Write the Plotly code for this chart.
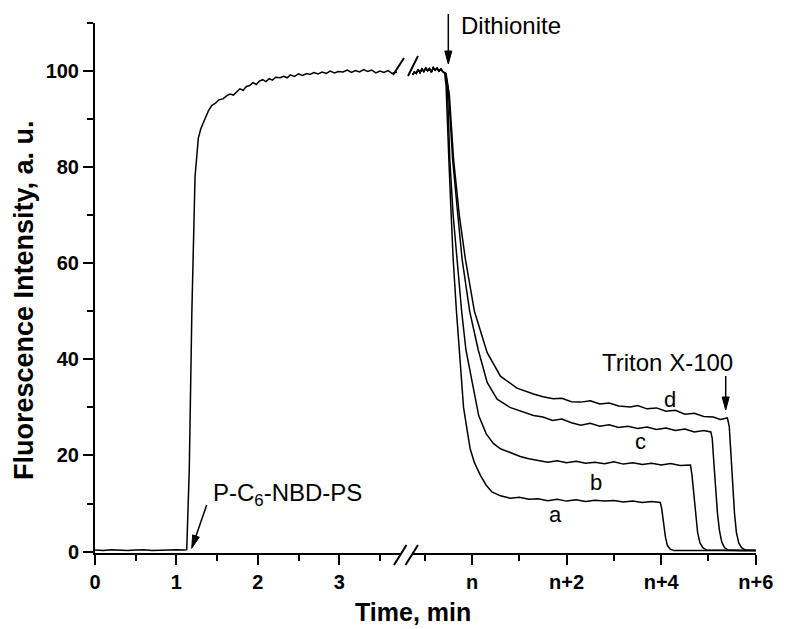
import math
import plotly.graph_objects as go

# ---------------- data ----------------
# left segment: time in min, fluorescence (a.u.)
left_time = [0.0, 0.1, 0.2, 0.3, 0.4, 0.5, 0.6, 0.7, 0.8, 0.9, 1.0, 1.1, 1.127,
             1.158, 1.19, 1.229, 1.25, 1.269, 1.30, 1.351, 1.39, 1.433, 1.48, 1.52,
             1.572, 1.62, 1.66, 1.70, 1.741, 1.78, 1.82, 1.86, 1.90, 1.941, 1.98,
             2.02, 2.06, 2.10, 2.14, 2.18, 2.22, 2.273, 2.32, 2.36, 2.40, 2.45, 2.50,
             2.55, 2.60, 2.641, 2.69, 2.74, 2.79, 2.84, 2.89, 2.94, 2.99, 3.047, 3.10,
             3.15, 3.20, 3.25, 3.30, 3.35, 3.40, 3.45, 3.50, 3.55, 3.60, 3.65, 3.71]
left_signal = [0.3, 0.2, 0.4, 0.3, 0.2, 0.3, 0.4, 0.2, 0.3, 0.3, 0.4, 0.3, 0.4,
               17.0, 50.0, 78.0, 83.0, 86.0, 88.0, 90.0, 91.6, 92.8, 93.3, 94.0,
               94.2, 94.9, 95.2, 95.0, 95.6, 96.3, 96.0, 96.8, 97.0, 97.6, 97.2,
               97.9, 98.2, 97.8, 98.4, 98.1, 98.7, 98.6, 98.9, 98.6, 99.2, 98.9, 99.4,
               99.1, 99.5, 99.3, 99.7, 99.4, 99.8, 99.5, 100.0, 99.6, 99.9, 99.8, 100.2,
               99.7, 100.1, 99.8, 100.3, 99.9, 100.2, 99.6, 100.0, 99.7, 100.1, 99.5, 99.8]

# right segment: time relative to n (min); common part before dithionite
pre_time = [-1.26, -1.22, -1.18, -1.14, -1.10, -1.06, -1.02, -0.98, -0.94, -0.90,
            -0.86, -0.82, -0.78, -0.74, -0.70, -0.66, -0.62]
pre_signal = [99.2, 99.8, 99.5, 100.3, 99.7, 100.4, 99.9, 100.6, 100.1, 100.5,
              99.8, 100.7, 100.2, 100.6, 100.0, 100.4, 99.9]

a_time = [-0.58, -0.55, -0.52, -0.49, -0.45, -0.40, -0.33, -0.27, -0.18, -0.10, -0.04,
          0.05, 0.18, 0.30, 0.42, 0.60, 0.81, 1.0, 1.2, 1.4, 1.6, 1.8, 2.0, 2.2, 2.4,
          2.6, 2.8, 3.0, 3.2, 3.4, 3.6, 3.8, 3.98, 4.01, 4.05, 4.09, 4.13, 4.19, 4.27,
          4.6, 5.0, 5.5, 6.0]
a_signal = [99.5, 97.0, 88.0, 81.5, 72.0, 61.0, 50.0, 42.0, 30.0, 25.0, 21.4,
            18.5, 15.8, 13.8, 12.4, 11.6, 11.1, 11.3, 10.9, 11.0, 10.6, 10.9, 10.5, 10.8, 10.4,
            10.7, 10.5, 10.6, 10.3, 10.5, 10.2, 10.4, 10.2, 9.0, 6.0, 3.0, 1.3, 0.5, 0.2,
            0.2, 0.2, 0.2, 0.2]

b_time = [-0.56, -0.52, -0.47, -0.40, -0.32, -0.22, -0.13, 0.0, 0.14, 0.30, 0.45,
          0.60, 0.80, 1.02, 1.2, 1.4, 1.6, 1.8, 2.0, 2.2, 2.4, 2.6, 2.8, 3.0, 3.2, 3.4,
          3.6, 3.8, 4.0, 4.2, 4.4, 4.62, 4.65, 4.69, 4.73, 4.77, 4.82, 4.88, 4.96,
          5.3, 5.6, 6.0]
b_signal = [99.5, 96.0, 81.5, 70.0, 60.8, 50.0, 42.0, 35.0, 28.3, 24.5, 22.5,
            21.4, 20.6, 19.8, 19.3, 19.0, 18.6, 18.9, 18.5, 18.8, 18.4, 18.6, 18.3, 18.7, 18.2, 18.5,
            18.1, 18.4, 18.0, 18.3, 17.9, 18.0, 16.0, 12.0, 7.5, 4.0, 1.8, 0.8, 0.3,
            0.2, 0.2, 0.2]

c_time = [-0.56, -0.50, -0.41, -0.30, -0.21, -0.05, 0.13, 0.32, 0.53, 0.80, 1.09,
          1.3, 1.5, 1.7, 1.9, 2.1, 2.3, 2.5, 2.7, 2.9, 3.1, 3.3, 3.5, 3.7, 3.9, 4.1,
          4.3, 4.5, 4.7, 4.9, 5.05, 5.08, 5.11, 5.15, 5.19, 5.23, 5.28, 5.34, 5.42,
          5.7, 6.0]
c_signal = [99.5, 96.0, 81.5, 70.0, 60.8, 50.0, 42.0, 35.2, 31.7, 30.0, 29.0,
            28.3, 28.0, 27.3, 27.6, 26.8, 26.3, 26.7, 26.1, 26.4, 25.8, 26.1, 25.6, 25.9, 25.4, 25.7,
            25.2, 25.5, 24.9, 25.2, 24.9, 23.5, 19.0, 13.0, 8.0, 4.5, 2.0, 0.8, 0.3,
            0.2, 0.2]

d_time = [-0.55, -0.48, -0.39, -0.27, -0.14, 0.05, 0.32, 0.60, 0.95, 1.3, 1.5, 1.72,
          1.9, 2.1, 2.3, 2.5, 2.7, 2.9, 3.1, 3.35, 3.5, 3.7, 3.9, 4.1, 4.3, 4.5, 4.7,
          4.9, 5.1, 5.25, 5.40, 5.44, 5.47, 5.51, 5.55, 5.59, 5.64, 5.70, 5.78, 6.0]
d_signal = [99.5, 95.0, 81.5, 70.0, 60.8, 50.0, 41.4, 36.5, 34.0, 32.8, 32.2, 31.8,
            31.9, 31.2, 31.1, 31.4, 30.7, 30.9, 30.3, 30.1, 30.4, 29.7, 29.9, 29.2, 29.4, 28.6, 28.8,
            28.1, 28.0, 27.5, 27.8, 26.0, 21.0, 14.0, 8.0, 4.0, 1.8, 0.8, 0.3, 0.2]

curve_labels = ["a", "b", "c", "d"]
right_ticks = [0, 2, 4, 6]
right_ticktext = ["n", "n+2", "n+4", "n+6"]

# ---------------- layout geometry ----------------
W, H = 799, 629
L, R, T, B = 95, 43, 23, 76
PW, PH = W - L - R, H - T - B


def px(x):
    return (x - L) / PW


def py(y):
    return (H - B - y) / PH


FONT = "Liberation Sans, Arial, sans-serif"
fig = go.Figure()

fig.add_trace(go.Scatter(x=left_time, y=left_signal, mode="lines",
                         line=dict(color="black", width=1.5), xaxis="x", yaxis="y",
                         showlegend=False))
for tt, ss in [(a_time, a_signal), (b_time, b_signal), (c_time, c_signal), (d_time, d_signal)]:
    fig.add_trace(go.Scatter(x=pre_time + tt, y=pre_signal + ss, mode="lines",
                             line=dict(color="black", width=1.5), xaxis="x2", yaxis="y",
                             showlegend=False))

tickfont = dict(family=FONT, size=20, color="black", weight="bold")
axis_common = dict(showline=True, linewidth=2, linecolor="black", ticks="outside",
                   ticklen=10, tickwidth=2, tickcolor="black", showgrid=False,
                   zeroline=False, tickfont=tickfont)

fig.update_layout(
    width=W, height=H,
    margin=dict(l=L, r=R, t=T, b=B),
    plot_bgcolor="white", paper_bgcolor="white",
    xaxis=dict(domain=[0, px(400)], range=[0, (400 - 95) / 81.4], anchor="y",
               tickmode="linear", tick0=0, dtick=1,
               minor=dict(ticks="outside", ticklen=6, tickwidth=2, tickcolor="black",
                          dtick=0.5, tick0=0),
               **axis_common),
    xaxis2=dict(domain=[px(412), 1], range=[-1.27, 6.005], anchor="y",
                tickmode="array", tickvals=right_ticks, ticktext=right_ticktext,
                minor=dict(ticks="outside", ticklen=6, tickwidth=2, tickcolor="black",
                           tickmode="array", tickvals=[-1, 1, 3, 5]),
                **axis_common),
    yaxis=dict(domain=[0, 1], range=[-0.3, 110], anchor="x",
               tickmode="linear", tick0=0, dtick=20,
               minor=dict(ticks="outside", ticklen=6, tickwidth=2, tickcolor="black",
                          dtick=10, tick0=0),
               **axis_common),
)

ann = []
# axis titles
ann.append(dict(text="Time, min", x=px(412.5), y=py(612), xref="paper", yref="paper",
                xanchor="center", yanchor="middle", showarrow=False,
                font=dict(family=FONT, size=25, color="black", weight="bold")))
ann.append(dict(text="Fluorescence Intensity, a. u.", x=px(24), y=py(300), xref="paper",
                yref="paper", xanchor="center", yanchor="middle", showarrow=False,
                textangle=-90,
                font=dict(family=FONT, size=27, color="black", weight="bold")))

tfont = dict(family=FONT, size=24, color="black")
ann.append(dict(text="Dithionite", x=px(459), y=py(25), xref="paper", yref="paper",
                xanchor="left", yanchor="middle", showarrow=False, font=tfont))
ann.append(dict(text="Triton X-100", x=px(600), y=py(362), xref="paper", yref="paper",
                xanchor="left", yanchor="middle", showarrow=False, font=tfont))
ann.append(dict(text="P-C<sub>6</sub>-NBD-PS", x=px(211), y=py(494), xref="paper",
                yref="paper", xanchor="left", yanchor="middle", showarrow=False, font=tfont))

# curve labels
for lab, lx, ly in zip(curve_labels, [555, 596, 640, 670], [514, 482, 441, 399]):
    ann.append(dict(text=lab, x=px(lx), y=py(ly), xref="paper", yref="paper",
                    xanchor="center", yanchor="middle", showarrow=False,
                    font=dict(family=FONT, size=22, color="black")))

fig.update_layout(annotations=ann)

shapes = []
# axis-break marks
for (x0, y0, x1, y1) in [(394, 565, 406.5, 545), (405.5, 565, 418, 545),
                         (393, 75, 404, 58), (408, 76, 418, 56)]:
    shapes.append(dict(type="line", xref="paper", yref="paper", x0=px(x0), y0=py(y0),
                       x1=px(x1), y1=py(y1), line=dict(color="black", width=2)))

# arrows: tail (x0,y0) -> tip (x1,y1) in pixels
for (x0, y0, x1, y1) in [(448.3, 14, 448.3, 64), (725.7, 376, 725.7, 410),
                         (206.7, 505, 191.7, 548.3)]:
    dx, dy = x1 - x0, y1 - y0
    n = math.hypot(dx, dy)
    ux, uy = dx / n, dy / n
    hl, hw = 13, 3.5
    bx, by = x1 - ux * hl, y1 - uy * hl
    shapes.append(dict(type="line", xref="paper", yref="paper", x0=px(x0), y0=py(y0),
                       x1=px(bx + ux * 2), y1=py(by + uy * 2),
                       line=dict(color="black", width=1.5)))
    p1 = (bx - uy * hw, by + ux * hw)
    p2 = (bx + uy * hw, by - ux * hw)
    path = "M {} {} L {} {} L {} {} Z".format(px(x1), py(y1), px(p1[0]), py(p1[1]),
                                              px(p2[0]), py(p2[1]))
    shapes.append(dict(type="path", xref="paper", yref="paper", path=path,
                       fillcolor="black", line=dict(color="black", width=1)))
fig.update_layout(shapes=shapes)

fig.write_html("out.html", config={"displayModeBar": False},
               post_script="document.body.style.margin='0px';")
